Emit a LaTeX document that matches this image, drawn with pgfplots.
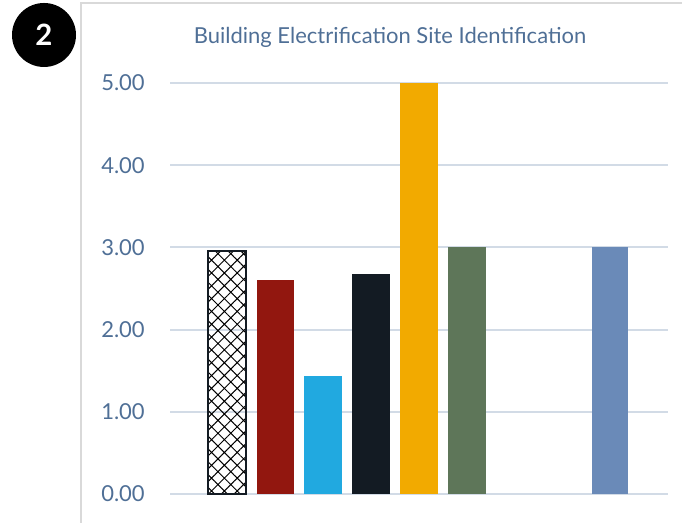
\documentclass[border=0pt]{standalone}
\usepackage{pgfplots}
\pgfplotsset{compat=1.18}
\usepackage{fontspec}
\setmainfont{Lato}
\usetikzlibrary{patterns.meta}
\definecolor{tickc}{HTML}{4F6F96}
\definecolor{gridc}{HTML}{D2DBE6}
\definecolor{framec}{HTML}{D9D9D9}
\definecolor{cred}{HTML}{92170F}
\definecolor{cblue}{HTML}{21A9E0}
\definecolor{cdark}{HTML}{131B23}
\definecolor{corange}{HTML}{F2AA00}
\definecolor{cgreen}{HTML}{5E7659}
\definecolor{cslate}{HTML}{6A8AB8}
\begin{document}
\begin{tikzpicture}
\path[use as bounding box] (0pt,0pt) rectangle (511.5pt,392.25pt);
% frame
\draw[framec, line width=1.5pt] (60.375pt,0pt) -- (60.375pt,390pt) -- (511.5pt,390pt);
% badge
\fill[black] (33pt,366pt) circle (24pt);
\node[text=white, font=\fontsize{22}{24}\selectfont\bfseries] at (33pt,366pt) {2};
% title
\node[anchor=base, text=tickc, font=\fontsize{16.5}{19}\selectfont] at (292.5pt,359.25pt) {Building Electrification Site Identification};
\begin{axis}[
  at={(127.5pt,21.75pt)}, anchor=south west,
  scale only axis, width=373.5pt, height=308.25pt,
  xmin=-1.2, xmax=9.21, ymin=0, ymax=5,
  ytick={0,1,2,3,4,5}, xtick=\empty,
  ymajorgrids, grid style={gridc, line width=1.5pt},
  axis line style={draw=none},
  ytick style={draw=none},
  /pgf/number format/assume math mode=true,
  yticklabel={\pgfmathprintnumber[fixed,fixed zerofill,precision=2]{\tick}},
  yticklabel style={anchor=east, inner sep=0pt, xshift=-18.75pt, text=tickc, font=\fontsize{16.5}{19}\selectfont},
  clip=false,
]
\addplot[ybar, bar width=28.5pt, bar shift=0pt, draw=cdark, line width=1.5pt,
  pattern={Hatch[angle=45, distance=6.8pt, line width=0.75pt]}, pattern color=black]
  coordinates {(0,2.96)};
\addplot[ybar, bar width=27.5pt, bar shift=0pt, draw=none, fill=cred] coordinates {(1,2.60)};
\addplot[ybar, bar width=28pt, bar shift=0pt, draw=none, fill=cblue] coordinates {(2,1.44)};
\addplot[ybar, bar width=28.5pt, bar shift=0pt, draw=none, fill=cdark] coordinates {(3,2.68)};
\addplot[ybar, bar width=28.5pt, bar shift=0pt, draw=none, fill=corange] coordinates {(4,5.00)};
\addplot[ybar, bar width=28.5pt, bar shift=0pt, draw=none, fill=cgreen] coordinates {(5,3.00)};
\addplot[ybar, bar width=27pt, bar shift=0pt, draw=none, fill=cslate] coordinates {(8,3.00)};
\end{axis}
\end{tikzpicture}
\end{document}
